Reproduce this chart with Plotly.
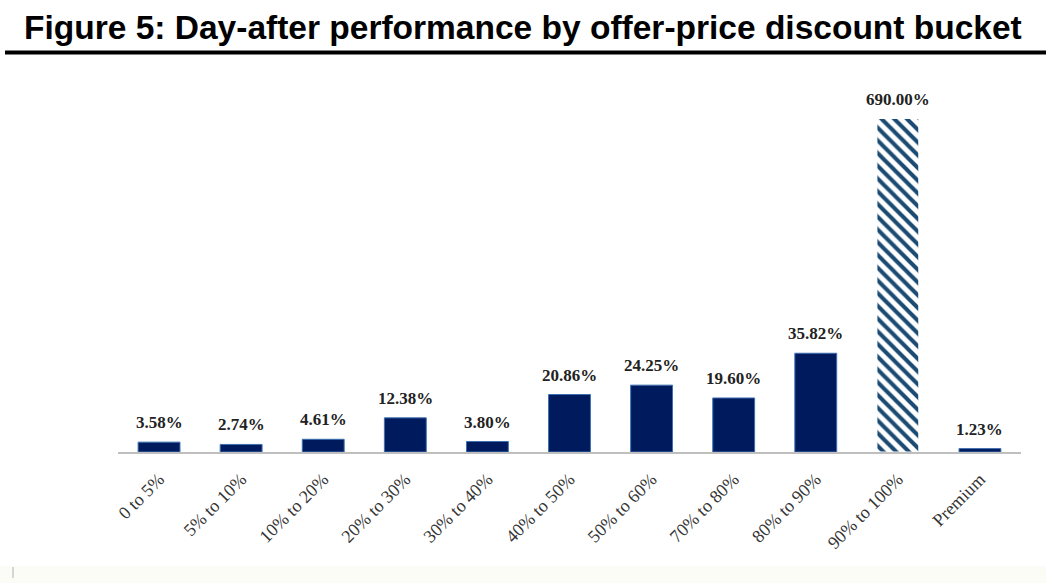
import plotly.graph_objects as go

categories = ["0 to 5%", "5% to 10%", "10% to 20%", "20% to 30%", "30% to 40%",
              "40% to 50%", "50% to 60%", "70% to 80%", "80% to 90%", "90% to 100%", "Premium"]
values = [3.58, 2.74, 4.61, 12.38, 3.80, 20.86, 24.25, 19.60, 35.82, 690.00, 1.23]
hatched = [False] * 9 + [True] + [False]

W, H = 1046, 583
ML, MR, MT, MB = 118, 25, 119, 131
PW, PH = W - ML - MR, H - MT - MB
YMAX = 120.8

def px_x(x):
    return (x - ML) / PW

def px_y(y):
    return (H - MB - y) / PH

navy = "#001a5e"
hatch_col = "#1b4a72"

fig = go.Figure()
fig.add_trace(go.Bar(
    x=categories, y=values, width=0.51,
    marker=dict(
        color=[hatch_col if h else navy for h in hatched],
        line=dict(color=["#ffffff" if h else "#3e6fb0" for h in hatched], width=1),
        pattern=dict(shape=["\\" if h else "" for h in hatched],
                     fgcolor=[hatch_col if h else navy for h in hatched],
                     bgcolor=["#ffffff" if h else navy for h in hatched],
                     fgopacity=1, size=9, solidity=0.45, fillmode="replace"),
    ),
    hoverinfo="skip",
))

annotations = []
for c, v in zip(categories, values):
    annotations.append(dict(
        x=c, y=min(v, YMAX), xref="x", yref="y", text=f"<b>{v:.2f}%</b>",
        showarrow=False, yanchor="bottom", yshift=8,
        font=dict(family="Liberation Serif", size=17, color="#222222"),
    ))

annotations.append(dict(
    x=px_x(523), y=px_y(27), xref="paper", yref="paper",
    text="<b>Figure 5: Day-after performance by offer-price discount bucket</b>",
    showarrow=False, xanchor="center", yanchor="middle",
    font=dict(family="Liberation Sans", size=33.5, color="#000000"),
))

shapes = [
    dict(type="line", xref="paper", yref="paper", x0=px_x(5), x1=px_x(1046),
         y0=px_y(52.5), y1=px_y(52.5), line=dict(color="#000000", width=4)),
    dict(type="rect", xref="paper", yref="paper", x0=px_x(0), x1=px_x(1046),
         y0=px_y(566), y1=px_y(583), fillcolor="#fafcf5", line=dict(width=0), layer="below"),
    dict(type="line", xref="paper", yref="paper", x0=px_x(13), x1=px_x(13),
         y0=px_y(567), y1=px_y(578), line=dict(color="#c8c8c8", width=1.5)),
]

fig.update_layout(
    width=W, height=H,
    margin=dict(l=ML, r=MR, t=MT, b=MB),
    paper_bgcolor="#ffffff", plot_bgcolor="#ffffff",
    showlegend=False,
    annotations=annotations,
    shapes=shapes,
    xaxis=dict(
        showline=True, linecolor="#bfbfbf", linewidth=1.5,
        showgrid=False, tickangle=-45, ticks="outside", ticklen=8, tickcolor="rgba(0,0,0,0)",
        tickfont=dict(family="Liberation Serif", size=18, color="#333333"),
        fixedrange=True,
    ),
    yaxis=dict(range=[0, YMAX], visible=False, fixedrange=True),
)

fig.write_html("out.html", config={"displayModeBar": False},
               post_script="document.body.style.margin='0';document.body.style.overflow='hidden';")
